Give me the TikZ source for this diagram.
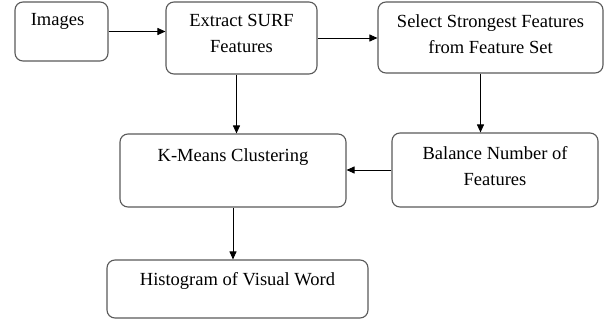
\documentclass[tikz,border=0pt]{standalone}
\usepackage{fontspec}
\setmainfont{Liberation Serif}
\usetikzlibrary{arrows.meta}
\begin{document}
\begin{tikzpicture}[x=1pt,y=1pt,
  box/.style={draw=black!65,line width=1.1pt,rounded corners=8pt,inner sep=0pt},
  txt/.style={anchor=north,align=center,inner sep=2pt,font=\fontsize{18.5pt}{26pt}\selectfont},
  arr/.style={-{Triangle[length=8pt,width=7pt]},line width=0.9pt}]
\useasboundingbox (0,0) rectangle (610,-323);
%\draw[gray,very thin] (0,0) grid[step=50] (610,-323);
\node[box,minimum width=93pt,minimum height=59pt,
  label={[txt,yshift=-10pt,xshift=-4pt]north:Images}] (img) at (61.5,-31.5) {};
\node[box,minimum width=151pt,minimum height=72pt,
  label={[txt,yshift=-11pt]north:Extract SURF\\Features}] (surf) at (241.5,-38) {};
\node[box,minimum width=225pt,minimum height=71pt,
  label={[txt,yshift=-11pt]north:Select Strongest Features\\from Feature Set}] (sel) at (490.5,-37.5) {};
\node[box,minimum width=206pt,minimum height=74pt,
  label={[txt,yshift=-12pt]north:Balance Number of\\Features}] (bal) at (495,-170) {};
\node[box,minimum width=226pt,minimum height=73pt,
  label={[txt,yshift=-13pt]north:K-Means Clustering}] (km) at (233,-170.5) {};
\node[box,minimum width=261pt,minimum height=58pt,
  label={[txt,yshift=-11pt]north:Histogram of Visual Word}] (hist) at (237.5,-289) {};
\draw[arr] (img.east) -- (img.east -| surf.west);
\draw[arr] (surf.east) -- (surf.east -| sel.west);
\draw[arr] ([xshift=-5pt]surf.south) -- ([xshift=-5pt]surf.south |- km.north);
\draw[arr] ([xshift=-10pt]sel.south) -- ([xshift=-10pt]sel.south |- bal.north);
\draw[arr] (bal.west) -- (bal.west -| km.east);
\draw[arr] (km.south) -- (km.south |- hist.north);
\end{tikzpicture}
\end{document}
